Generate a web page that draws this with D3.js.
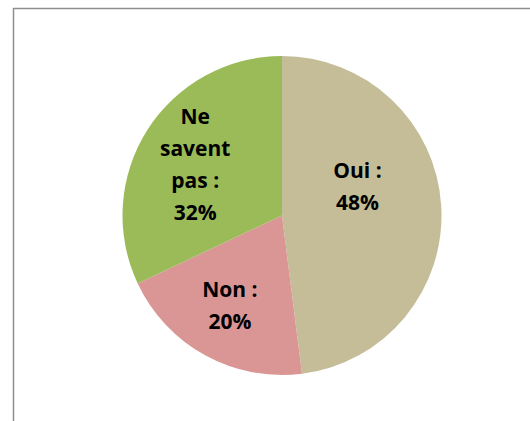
<!DOCTYPE html>
<html>
<head>
<meta charset="utf-8">
<script src="https://cdn.jsdelivr.net/npm/d3@7"></script>
<style>
  body { margin: 0; background: #fff; }
</style>
</head>
<body>
<script>
// data
var categories = ["Oui", "Non", "Ne savent pas"];
var values = [48, 20, 32];
var labelLines = [["Oui :", "48%"], ["Non :", "20%"], ["Ne", "savent", "pas :", "32%"]];
var colours = ["#C4BD97", "#D99694", "#9BBB59"];

var width = 530, height = 421;
var cx = 282, cy = 215.5, radius = 159.5;
// small nudges so labels sit where the original put them
var labelNudge = [[-20, -22], [-6, 7], [-6, 1]];

var svg = d3.select("body").append("svg")
  .attr("width", width).attr("height", height);

// chart frame (continues past the window on the right and bottom)
svg.append("rect")
  .attr("x", 13.5).attr("y", 8.5)
  .attr("width", 600).attr("height", 500)
  .attr("fill", "none")
  .attr("stroke", "#8e8e8e")
  .attr("stroke-width", 1.5);

var pie = d3.pie().sort(null).value(function(d){ return d; });
var arcs = pie(values);
var arc = d3.arc().innerRadius(0).outerRadius(radius);
var labelArc = d3.arc().innerRadius(radius * 0.6).outerRadius(radius * 0.6);

var g = svg.append("g").attr("transform", "translate(" + cx + "," + cy + ")");

g.selectAll("path.slice").data(arcs).enter().append("path")
  .attr("class", "slice")
  .attr("d", arc)
  .attr("fill", function(d, i){ return colours[i]; });

var lineH = 32;
var labels = g.selectAll("text.lbl").data(arcs).enter().append("text")
  .attr("class", "lbl")
  .attr("text-anchor", "middle")
  .attr("font-family", "'Open Sans', sans-serif")
  .attr("font-weight", "bold")
  .attr("font-size", "21px")
  .attr("fill", "#000")
  .attr("transform", function(d, i){
    var c = labelArc.centroid(d);
    return "translate(" + (c[0] + labelNudge[i][0]) + "," + (c[1] + labelNudge[i][1]) + ")";
  });

labels.each(function(d, i){
  var lines = labelLines[i];
  var t = d3.select(this);
  var startY = -((lines.length - 1) * lineH) / 2 + 7;
  lines.forEach(function(l, j){
    t.append("tspan").attr("x", 0).attr("y", startY + j * lineH).text(l);
  });
});
</script>
</body>
</html>
